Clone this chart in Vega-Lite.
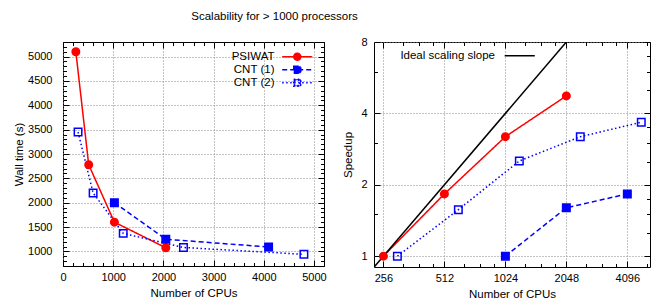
{
  "$schema": "https://vega.github.io/schema/vega-lite/v6.json",
  "background": "white",
  "padding": {"left": 13, "top": 11, "right": 5, "bottom": 5},
  "title": {"text": "Scalability for > 1000 processors", "fontSize": 11.5, "fontWeight": "normal", "font": "Liberation Sans", "color": "black", "anchor": "middle", "dx": -57.5, "offset": 13},
  "config": {
    "font": "Liberation Sans",
    "view": {"stroke": "black", "strokeWidth": 1},
    "axis": {"domain": false, "labelFontSize": 11, "titleFontSize": 11.5, "titleFontWeight": "normal", "labelColor": "black", "titleColor": "black", "tickColor": "black", "tickWidth": 1, "gridColor": "#888888", "gridDash": [1, 2], "gridWidth": 1, "labelOverlap": false, "labelFlush": false}
  },
  "datasets": {
    "runs": [
      {"series": "PSIWAT", "cpus": 256, "time": 5100, "speedup": 1},
      {"series": "PSIWAT", "cpus": 512, "time": 2780, "speedup": 1.83},
      {"series": "PSIWAT", "cpus": 1024, "time": 1600, "speedup": 3.19},
      {"series": "PSIWAT", "cpus": 2048, "time": 1075, "speedup": 4.74},
      {"series": "CNT (1)", "cpus": 1024, "time": 2000, "speedup": 1},
      {"series": "CNT (1)", "cpus": 2048, "time": 1250, "speedup": 1.6},
      {"series": "CNT (1)", "cpus": 4096, "time": 1090, "speedup": 1.83},
      {"series": "CNT (2)", "cpus": 300, "time": 3450, "speedup": 1},
      {"series": "CNT (2)", "cpus": 600, "time": 2200, "speedup": 1.57},
      {"series": "CNT (2)", "cpus": 1200, "time": 1370, "speedup": 2.52},
      {"series": "CNT (2)", "cpus": 2400, "time": 1080, "speedup": 3.19},
      {"series": "CNT (2)", "cpus": 4800, "time": 940, "speedup": 3.67}
    ],
    "ideal": [
      {"label": "Ideal scaling slope", "cpus": 230, "speedup": 0.8984},
      {"label": "Ideal scaling slope", "cpus": 2048, "speedup": 8}
    ]
  },
  "resolve": {
    "scale": {"stroke": "independent", "fill": "independent", "shape": "independent", "strokeDash": "independent", "color": "independent", "opacity": "independent"},
    "legend": {"stroke": "independent", "fill": "independent", "shape": "independent", "strokeDash": "independent", "color": "independent", "opacity": "independent"}
  },
  "spacing": 15,
  "hconcat": [
    {
      "width": 261,
      "height": 224,
      "data": {"name": "runs"},
      "resolve": {"axis": {"x": "independent", "y": "independent"}},
      "layer": [
        {
          "mark": {"type": "line", "strokeWidth": 1.5},
          "encoding": {
            "x": {"field": "cpus", "type": "quantitative",
              "scale": {"domain": [0, 5200], "nice": false, "zero": false},
              "axis": {"orient": "bottom", "title": "Number of CPUs", "format": "d",
                "values": [0,200,400,600,800,1000,1200,1400,1600,1800,2000,2200,2400,2600,2800,3000,3200,3400,3600,3800,4000,4200,4400,4600,4800,5000,5200],
                "labelExpr": "datum.value % 1000 === 0 ? datum.label : ''",
                "tickSize": {"condition": {"test": "datum.value % 1000 === 0", "value": -6}, "value": -3.5},
                "grid": true,
                "gridOpacity": {"condition": {"test": "datum.value % 1000 === 0", "value": 1}, "value": 0},
                "labelPadding": 11, "titlePadding": 3}},
            "y": {"field": "time", "type": "quantitative",
              "scale": {"domain": [700, 5300], "nice": false, "zero": false},
              "axis": {"orient": "left", "title": "Wall time (s)", "format": "d",
                "values": [700,800,900,1000,1100,1200,1300,1400,1500,1600,1700,1800,1900,2000,2100,2200,2300,2400,2500,2600,2700,2800,2900,3000,3100,3200,3300,3400,3500,3600,3700,3800,3900,4000,4100,4200,4300,4400,4500,4600,4700,4800,4900,5000,5100,5200,5300],
                "labelExpr": "datum.value % 500 === 0 ? datum.label : ''",
                "tickSize": {"condition": {"test": "datum.value % 500 === 0", "value": -6}, "value": -3.5},
                "grid": true,
                "gridOpacity": {"condition": {"test": "datum.value % 500 === 0", "value": 1}, "value": 0},
                "labelPadding": 17, "titlePadding": 3}},
            "stroke": {"field": "series", "type": "nominal", "legend": null,
              "scale": {"domain": ["PSIWAT", "CNT (1)", "CNT (2)"], "range": ["#ff0000", "#0000ff", "#0000ff"]}},
            "strokeDash": {"field": "series", "type": "nominal", "legend": null,
              "scale": {"domain": ["PSIWAT", "CNT (1)", "CNT (2)"], "range": [[1, 0], [5, 3], [1.5, 2.5]]}},
            "opacity": {"field": "series", "type": "ordinal", "sort": ["PSIWAT", "CNT (1)", "CNT (2)"],
              "scale": {"range": [1, 1]},
              "legend": {"orient": "none", "legendX": 200.5, "legendY": 9, "title": null, "symbolSize": 49, "symbolStrokeWidth": 1.5,
                "labelFontSize": 11.5, "labelColor": "black", "labelAlign": "right", "labelOffset": -28.5, "symbolOffset": 28, "rowPadding": -3.5,
                "encode": {"symbols": {"update": {
                  "shape": {"signal": "datum.value === 'PSIWAT' ? 'M-4.3,0H4.3M-1,0A1,1,0,1,1,1,0A1,1,0,1,1,-1,0Z' : datum.value === 'CNT (1)' ? 'M-4.3,0H4.3M-1,-1H1V1H-1Z' : 'M-4.3,0H4.3M-1,-1H1V1H-1ZM-0.75,-0.75V0.75H0.75V-0.75Z'"},
                  "fill": {"signal": "datum.value === 'PSIWAT' ? '#ff0000' : '#0000ff'"},
                  "stroke": {"signal": "datum.value === 'PSIWAT' ? '#ff0000' : '#0000ff'"},
                  "strokeDash": {"signal": "datum.value === 'PSIWAT' ? [1, 0] : datum.value === 'CNT (1)' ? [5, 3] : [1.5, 2.5]"},
                  "strokeWidth": {"value": 1.5},
                  "size": {"value": 49}
                }}}}}
          }
        },
        {
          "mark": {"type": "point", "size": 56, "strokeWidth": 1.5, "opacity": 1},
          "encoding": {
            "x": {"field": "cpus", "type": "quantitative",
              "axis": {"orient": "top", "title": null, "labels": false, "grid": false,
                "values": [0,200,400,600,800,1000,1200,1400,1600,1800,2000,2200,2400,2600,2800,3000,3200,3400,3600,3800,4000,4200,4400,4600,4800,5000,5200],
                "tickSize": {"condition": {"test": "datum.value % 1000 === 0", "value": -6}, "value": -3.5}}},
            "y": {"field": "time", "type": "quantitative",
              "axis": {"orient": "right", "title": null, "labels": false, "grid": false,
                "values": [700,800,900,1000,1100,1200,1300,1400,1500,1600,1700,1800,1900,2000,2100,2200,2300,2400,2500,2600,2700,2800,2900,3000,3100,3200,3300,3400,3500,3600,3700,3800,3900,4000,4100,4200,4300,4400,4500,4600,4700,4800,4900,5000,5100,5200,5300],
                "tickSize": {"condition": {"test": "datum.value % 500 === 0", "value": -6}, "value": -3.5}}},
            "shape": {"field": "series", "type": "nominal", "legend": null,
              "scale": {"domain": ["PSIWAT", "CNT (1)", "CNT (2)"], "range": ["circle", "square", "square"]}},
            "fill": {"field": "series", "type": "nominal", "legend": null,
              "scale": {"domain": ["PSIWAT", "CNT (1)", "CNT (2)"], "range": ["#ff0000", "#0000ff", "transparent"]}},
            "stroke": {"field": "series", "type": "nominal", "legend": null}
          }
        }
      ]
    },
    {
      "width": 276,
      "height": 225,
      "resolve": {"axis": {"x": "independent", "y": "independent"}},
      "layer": [
        {
          "data": {"name": "runs"},
          "mark": {"type": "line", "strokeWidth": 1.5, "clip": true},
          "encoding": {
            "x": {"field": "cpus", "type": "quantitative",
              "scale": {"type": "log", "base": 2, "domain": [230, 5300], "nice": false, "zero": false},
              "axis": {"orient": "bottom", "title": "Number of CPUs", "format": "d",
                "values": [256,320,384,448,512,640,768,896,1024,1280,1536,1792,2048,2560,3072,3584,4096,5120],
                "labelExpr": "indexof([256,512,1024,2048,4096], datum.value) >= 0 ? datum.label : ''",
                "tickSize": {"condition": {"test": "indexof([256,512,1024,2048,4096], datum.value) >= 0", "value": -6}, "value": -3.5},
                "grid": true,
                "gridOpacity": {"condition": {"test": "indexof([256,512,1024,2048,4096], datum.value) >= 0", "value": 1}, "value": 0},
                "labelPadding": 11, "titlePadding": 3}},
            "y": {"field": "speedup", "type": "quantitative",
              "scale": {"type": "log", "base": 2, "domain": [0.9, 8], "nice": false, "zero": false},
              "axis": {"orient": "left", "title": "Speedup", "format": "d",
                "values": [1,1.25,1.5,1.75,2,2.5,3,3.5,4,5,6,7,8],
                "labelExpr": "indexof([1,2,4,8], datum.value) >= 0 ? datum.label : ''",
                "tickSize": {"condition": {"test": "indexof([1,2,4,8], datum.value) >= 0", "value": -6}, "value": -3.5},
                "grid": true,
                "gridOpacity": {"condition": {"test": "indexof([1,2,4,8], datum.value) >= 0", "value": 1}, "value": 0},
                "labelPadding": 13, "titlePadding": 7}},
            "stroke": {"field": "series", "type": "nominal", "legend": null,
              "scale": {"domain": ["PSIWAT", "CNT (1)", "CNT (2)"], "range": ["#ff0000", "#0000ff", "#0000ff"]}},
            "strokeDash": {"field": "series", "type": "nominal", "legend": null,
              "scale": {"domain": ["PSIWAT", "CNT (1)", "CNT (2)"], "range": [[1, 0], [5, 3], [1.5, 2.5]]}}
          }
        },
        {
          "data": {"name": "ideal"},
          "mark": {"type": "line", "strokeWidth": 1.5, "clip": true},
          "encoding": {
            "x": {"field": "cpus", "type": "quantitative", "axis": null},
            "y": {"field": "speedup", "type": "quantitative", "axis": null},
            "color": {"field": "label", "type": "nominal",
              "scale": {"domain": ["Ideal scaling slope"], "range": ["#000000"]},
              "legend": {"orient": "none", "legendX": 112, "legendY": 8, "title": null, "symbolSize": 49, "symbolStrokeWidth": 1.5,
                "labelFontSize": 11.5, "labelColor": "black", "labelAlign": "right", "labelOffset": -30.5, "symbolOffset": 28,
                "encode": {"symbols": {"update": {
                  "shape": {"value": "M-4.3,0H4.3"},
                  "stroke": {"value": "#000000"},
                  "fill": {"value": "transparent"},
                  "strokeWidth": {"value": 1.5},
                  "size": {"value": 49},
                  "opacity": {"value": 1}
                }}}}}
          }
        },
        {
          "data": {"name": "runs"},
          "mark": {"type": "point", "size": 56, "strokeWidth": 1.5, "opacity": 1},
          "encoding": {
            "x": {"field": "cpus", "type": "quantitative",
              "axis": {"orient": "top", "title": null, "labels": false, "grid": false,
                "values": [256,320,384,448,512,640,768,896,1024,1280,1536,1792,2048,2560,3072,3584,4096,5120],
                "tickSize": {"condition": {"test": "indexof([256,512,1024,2048,4096], datum.value) >= 0", "value": -6}, "value": -3.5}}},
            "y": {"field": "speedup", "type": "quantitative",
              "axis": {"orient": "right", "title": null, "labels": false, "grid": false,
                "values": [1,1.25,1.5,1.75,2,2.5,3,3.5,4,5,6,7,8],
                "tickSize": {"condition": {"test": "indexof([1,2,4,8], datum.value) >= 0", "value": -6}, "value": -3.5}}},
            "shape": {"field": "series", "type": "nominal", "legend": null,
              "scale": {"domain": ["PSIWAT", "CNT (1)", "CNT (2)"], "range": ["circle", "square", "square"]}},
            "fill": {"field": "series", "type": "nominal", "legend": null,
              "scale": {"domain": ["PSIWAT", "CNT (1)", "CNT (2)"], "range": ["#ff0000", "#0000ff", "transparent"]}},
            "stroke": {"field": "series", "type": "nominal", "legend": null,
              "scale": {"domain": ["PSIWAT", "CNT (1)", "CNT (2)"], "range": ["#ff0000", "#0000ff", "#0000ff"]}}
          }
        }
      ]
    }
  ]
}
